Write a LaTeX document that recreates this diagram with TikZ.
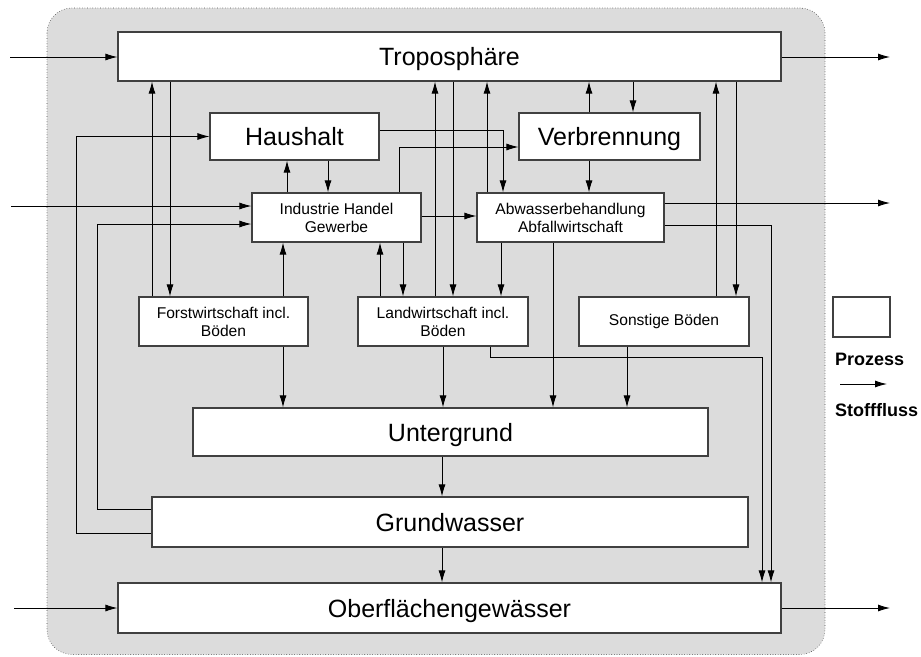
\documentclass[tikz,border=0pt]{standalone}
\usepackage{fontspec}
\setmainfont{Liberation Sans}
\usetikzlibrary{arrows.meta}
\definecolor{bgc}{HTML}{DCDCDC}
\definecolor{boxc}{HTML}{404040}
\begin{document}
\begin{tikzpicture}[x=1pt,y=-1pt,
  proc/.style={draw=boxc, line width=1.1pt, fill=white, inner sep=0pt, align=center},
  big/.style={proc, font=\fontsize{25}{30}\selectfont, text depth=0pt},
  small/.style={proc, font=\fontsize{15.6}{18}\selectfont},
  arr/.style={line width=0.9pt, -{Latex[length=12pt,width=7pt]}},
  leg/.style={font=\fontsize{18}{21}\bfseries\selectfont, inner sep=0pt, anchor=west}]
\useasboundingbox (0,0) rectangle (921,656);
\draw[dotted, line width=0.6pt, draw=black!70, fill=bgc, rounded corners=25pt] (47,8) rectangle (825,654.5);

% processes
\node[big, minimum width=663pt, minimum height=49pt] (tropo) at (449.5,56.5) {Troposphäre};
\node[big, minimum width=169pt, minimum height=47pt] (haus) at (294.5,136.5) {Haushalt};
\node[big, minimum width=181pt, minimum height=47pt] (verb) at (609.5,136.5) {Verbrennung};
\node[small, minimum width=169pt, minimum height=49pt] (ind) at (336.5,217.5) {Industrie Handel\\Gewerbe};
\node[small, minimum width=187pt, minimum height=49pt] (abw) at (570.5,217.5) {Abwasserbehandlung\\Abfallwirtschaft};
\node[small, minimum width=169pt, minimum height=49pt] (forst) at (223.5,321.5) {Forstwirtschaft incl.\\Böden};
\node[small, minimum width=170pt, minimum height=49pt] (land) at (443,321.5) {Landwirtschaft incl.\\Böden};
\node[small, minimum width=170pt, minimum height=49pt] (sonst) at (664,321.5) {Sonstige Böden};
\node[big, minimum width=515pt, minimum height=48pt] (unter) at (450.5,432) {Untergrund};
\node[big, minimum width=596pt, minimum height=50pt] (grund) at (450,522) {Grundwasser};
\node[big, minimum width=663pt, minimum height=50pt] (ober) at (449.5,608) {Oberflächengewässer};

% legend
\node[proc, minimum width=57pt, minimum height=40pt] (legbox) at (861.5,317) {};
\node[leg] (legp) at (835,359) {Prozess};
\coordinate (legA) at (840,384);
\coordinate (legB) at (887,384);
\draw[arr] (legA) -- (legB);
\node[leg] (legs) at (835,410) {Stofffluss};

% inputs / outputs
\coordinate (inT) at (10,57);
\coordinate (outT) at (890,57);
\coordinate (inI) at (11,206);
\coordinate (outA) at (890,203);
\coordinate (inO) at (14,608);
\coordinate (outO) at (890,608);
\draw[arr] (inT) -- (inT -| tropo.west);
\draw[arr] (outT -| tropo.east) -- (outT);
\draw[arr] (inI) -- (inI -| ind.west);
\draw[arr] (outA -| abw.east) -- (outA);
\draw[arr] (inO) -- (inO -| ober.west);
\draw[arr] (outO -| ober.east) -- (outO);

% Forst <-> Tropo
\draw[arr] (forst.north -| 152,0) -- (tropo.south -| 152,0);
\draw[arr] (tropo.south -| 170,0) -- (forst.north -| 170,0);
% Haushalt <-> Industrie
\draw[arr] (ind.north -| 287,0) -- (haus.south -| 287,0);
\draw[arr] (haus.south -| 328,0) -- (ind.north -| 328,0);
% Grundwasser -> Haushalt, Industrie
\draw[arr] (grund.west |- 0,533) -- (76,533) |- (haus.west);
\draw[arr] (grund.west |- 0,509) -- (97,509) |- (ind.west |- 0,224);
% Forst -> Industrie, Untergrund
\draw[arr] (forst.north -| 283,0) -- (ind.south -| 283,0);
\draw[arr] (forst.south -| 283,0) -- (unter.north -| 283,0);
% Landwirtschaft
\draw[arr] (land.north -| 380,0) -- (ind.south -| 380,0);
\draw[arr] (ind.south -| 403,0) -- (land.north -| 403,0);
\draw[arr] (land.north -| 435,0) -- (tropo.south -| 435,0);
\draw[arr] (tropo.south -| 453,0) -- (land.north -| 453,0);
\draw[arr] (abw.south -| 501,0) -- (land.north -| 501,0);
\draw[arr] (land.south -| 443,0) -- (unter.north -| 443,0);
\draw[arr] (land.south -| 490,0) -- (490,357) -- (762,357) -- (ober.north -| 762,0);
% Abwasser
\draw[arr] (abw.south -| 553,0) -- (unter.north -| 553,0);
\draw[arr] (abw.east |- 0,225) -- (771,225) -- (ober.north -| 771,0);
\draw[arr] (abw.north -| 487,0) -- (tropo.south -| 487,0);
\draw[arr] (haus.east |- 0,130) -- (503,130) -- (abw.north -| 503,0);
\draw[arr] (ind.north -| 399,0) -- (399,147) -- (verb.west |- 0,147);
\draw[arr] (ind.east |- 0,216) -- (abw.west |- 0,216);
% Verbrennung
\draw[arr] (verb.north -| 589,0) -- (tropo.south -| 589,0);
\draw[arr] (tropo.south -| 633,0) -- (verb.north -| 633,0);
\draw[arr] (verb.south -| 589,0) -- (abw.north -| 589,0);
% Sonstige
\draw[arr] (sonst.north -| 716,0) -- (tropo.south -| 716,0);
\draw[arr] (tropo.south -| 736,0) -- (sonst.north -| 736,0);
\draw[arr] (sonst.south -| 627,0) -- (unter.north -| 627,0);
% Untergrund -> Grundwasser -> Ober
\draw[arr] (unter.south -| 442,0) -- (grund.north -| 442,0);
\draw[arr] (grund.south -| 442,0) -- (ober.north -| 442,0);
\end{tikzpicture}
\end{document}
